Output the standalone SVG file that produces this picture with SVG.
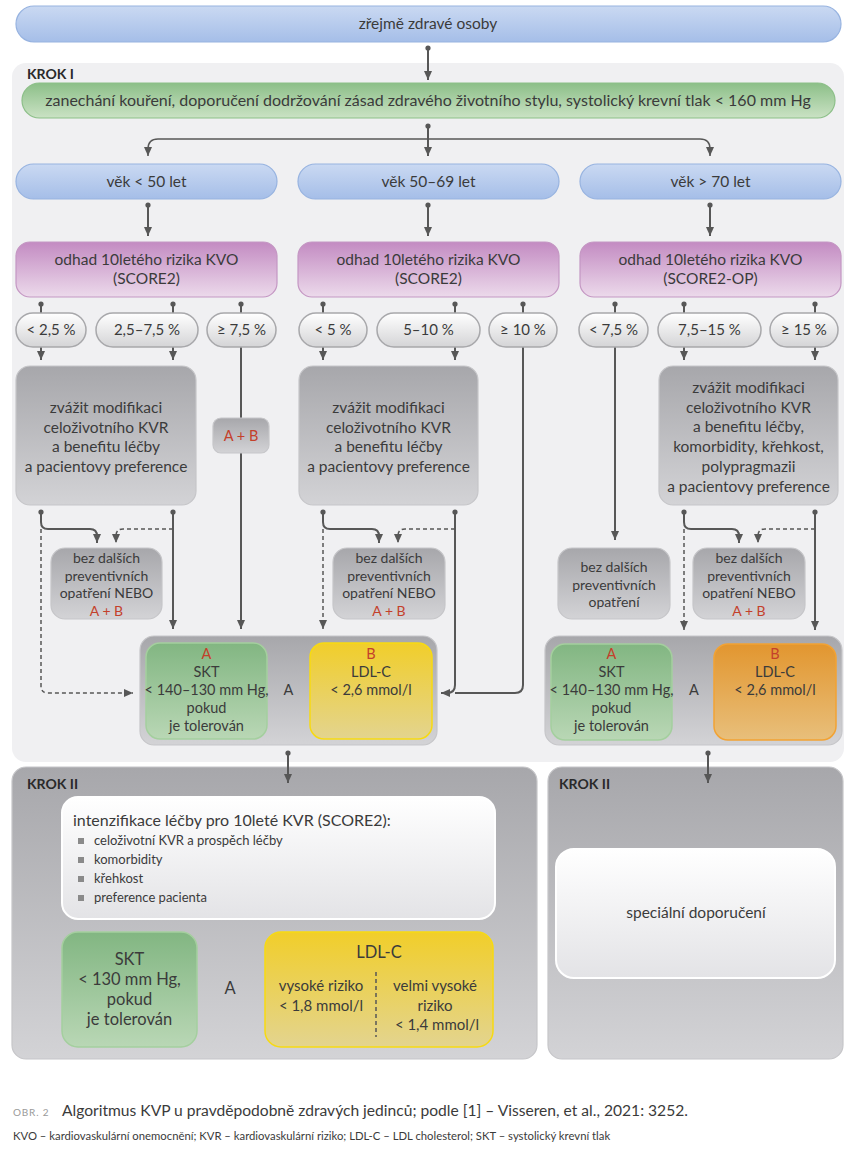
<svg xmlns="http://www.w3.org/2000/svg" width="857" height="1163" viewBox="0 0 857 1163">
<defs>
<linearGradient id="gBlue" x1="0" y1="0" x2="0" y2="1"><stop offset="0" stop-color="#cad9f2"/><stop offset="1" stop-color="#a5bee8"/></linearGradient>
<linearGradient id="gGreenPill" x1="0" y1="0" x2="0" y2="1"><stop offset="0" stop-color="#8cbf88"/><stop offset="1" stop-color="#cae2c4"/></linearGradient>
<linearGradient id="gPurple" x1="0" y1="0" x2="0" y2="1"><stop offset="0" stop-color="#c38bc2"/><stop offset="1" stop-color="#ecdaeb"/></linearGradient>
<linearGradient id="gPct" x1="0" y1="0" x2="0" y2="1"><stop offset="0" stop-color="#ffffff"/><stop offset="1" stop-color="#d4d4d6"/></linearGradient>
<linearGradient id="gGray" x1="0" y1="0" x2="0" y2="1"><stop offset="0" stop-color="#a7a7ab"/><stop offset="1" stop-color="#d3d3d6"/></linearGradient>
<linearGradient id="gGreen" x1="0" y1="0" x2="0" y2="1"><stop offset="0" stop-color="#82b682"/><stop offset="1" stop-color="#b9d7b5"/></linearGradient>
<linearGradient id="gYellow" x1="0" y1="0" x2="0" y2="1"><stop offset="0" stop-color="#f1ce2a"/><stop offset="1" stop-color="#e3d48f"/></linearGradient>
<linearGradient id="gOrange" x1="0" y1="0" x2="0" y2="1"><stop offset="0" stop-color="#e2962f"/><stop offset="1" stop-color="#e8bf7b"/></linearGradient>
<linearGradient id="gWhite" x1="0" y1="0" x2="0" y2="1"><stop offset="0" stop-color="#ffffff"/><stop offset="1" stop-color="#e3e3e6"/></linearGradient>
<marker id="arr" viewBox="0 0 9 8" refX="9" refY="4" markerWidth="9" markerHeight="8" markerUnits="userSpaceOnUse" orient="auto"><path d="M0,0 L9,4 L0,8 z" fill="#575757"/></marker>
<marker id="dot" viewBox="0 0 6 6" refX="3" refY="3" markerWidth="6" markerHeight="6" markerUnits="userSpaceOnUse"><circle cx="3" cy="3" r="2.6" fill="#575757"/></marker>
<style>
text{font-family:Lato,"Noto Sans","DejaVu Sans",sans-serif;fill:#3b3b3b;text-anchor:middle;font-size:15.5px}
.s15{font-size:15px}
.s14{font-size:14.5px}
.s13{font-size:14px}
.s12{font-size:13px}
.s16{font-size:16.5px}
.red{fill:#c4402b}
.lbl{font-weight:bold;font-size:14px;text-anchor:start;fill:#2a2a2a}
.blue{fill:url(#gBlue);stroke:#97b3e0;stroke-width:1.2}
.gpill{fill:url(#gGreenPill);stroke:#8cbf88;stroke-width:1.2}
.purple{fill:url(#gPurple);stroke:#c497c3;stroke-width:1.2}
.pct{fill:url(#gPct);stroke:#a8a8ab;stroke-width:1.5}
.gray{fill:url(#gGray);stroke:#c6c6c9;stroke-width:1.2}
.green{fill:url(#gGreen);stroke:#a4cf9e;stroke-width:1.5}
.yellow{fill:url(#gYellow);stroke:#f7da12;stroke-width:1.5}
.orange{fill:url(#gOrange);stroke:#f2a233;stroke-width:1.5}
.white{fill:url(#gWhite);stroke:#ffffff;stroke-width:2}
.c{fill:none;stroke:#575757;stroke-width:2}
.thin{stroke-width:1.5}
.d{fill:none;stroke:#575757;stroke-width:1.5;stroke-dasharray:4 3}
.a{marker-end:url(#arr)}
.o{marker-start:url(#dot)}
.bul{fill:#8a8a8a}
</style>
</defs>
<rect width="857" height="1163" fill="#ffffff"/>

<g id="krok1-panel">
<rect x="12" y="63" width="832" height="699" rx="14" fill="#f0f0f2"/>
<text class="lbl" x="27" y="79">KROK I</text>
</g>
<g id="krok2-left-panel">
<rect x="12" y="767" width="525" height="292" rx="14" class="gray"/>
<text class="lbl" x="27" y="789">KROK II</text>
</g>
<g id="krok2-right-panel">
<rect x="548" y="767" width="295" height="292" rx="14" class="gray"/>
<text class="lbl" x="559" y="789">KROK II</text>
</g>

<g id="connectors">
<path class="c o a" d="M428,48 V80"/>
<path class="c o a" d="M428,126 V156"/>
<path class="c thin a" d="M428,139 H158 Q148,139 148,149 V156"/>
<path class="c thin a" d="M428,139 H700 Q710,139 710,149 V156"/>
<path class="c o a" d="M148,205 V236"/>
<path class="c o a" d="M428,205 V236"/>
<path class="c o a" d="M710,205 V236"/>
<path class="c o" d="M41,304 V313"/>
<path class="c o" d="M173,304 V313"/>
<path class="c o" d="M241,304 V313"/>
<path class="c o" d="M323,304 V313"/>
<path class="c o" d="M455,304 V313"/>
<path class="c o" d="M523,304 V313"/>
<path class="c o" d="M615,304 V313"/>
<path class="c o" d="M684,304 V313"/>
<path class="c o" d="M815,304 V313"/>
<path class="c a" d="M41,347 V360"/>
<path class="c a" d="M173,347 V360"/>
<path class="c a" d="M323,347 V360"/>
<path class="c a" d="M455,347 V360"/>
<path class="c a" d="M684,347 V360"/>
<path class="c a" d="M815,347 V360"/>
<path class="c a" d="M241,347 V629"/>
<path class="c a" d="M615,347 V540"/>
<path class="c" d="M523,347 V685 Q523,693 515,693 H455"/>
<path class="c o a" d="M455,512 V685 Q455,693 447,693 H441"/>
<path class="c o a" d="M41,512 V522 Q41,529 48,529 H90 Q97,529 97,536 V543"/>
<path class="d a" d="M41,529 V686 Q41,693 48,693 H133"/>
<path class="c o a" d="M173,512 V629" stroke-width="2.5"/>
<path class="d a" d="M173,529 H123 Q116,529 116,536 V543"/>
<path class="c o a" d="M323,512 V522 Q323,529 330,529 H372 Q379,529 379,536 V543"/>
<path class="d a" d="M323,529 V629"/>
<path class="d a" d="M455,529 H405 Q398,529 398,536 V543"/>
<path class="c o a" d="M684,512 V522 Q684,529 691,529 H732 Q739,529 739,536 V543"/>
<path class="d a" d="M684,529 V630"/>
<path class="d a" d="M815,529 H765 Q758,529 758,536 V543"/>
<path class="c o a" d="M815,512 V630" stroke-width="2.5"/>
<path class="c o a" d="M288,753 V783"/>
<path class="c o a" d="M708,753 V783"/>
</g>

<g id="start">
<rect x="16" y="6" width="825" height="36" rx="18" class="blue"/>
<text x="428" y="29">zřejmě zdravé osoby</text>
</g>
<g id="lifestyle">
<rect x="22" y="83" width="813" height="35" rx="17.5" class="gpill"/>
<text x="428" y="106" style="font-size:16px">zanechání kouření, doporučení dodržování zásad zdravého životního stylu, systolický krevní tlak &lt; 160 mm Hg</text>
</g>

<g id="age-lt50">
<rect x="16" y="164" width="261" height="35" rx="17.5" class="blue"/>
<text x="146.5" y="187">věk &lt; 50 let</text>
</g>
<g id="age-50-69">
<rect x="298" y="164" width="261" height="35" rx="17.5" class="blue"/>
<text x="428.5" y="187">věk 50–69 let</text>
</g>
<g id="age-gt70">
<rect x="580" y="164" width="261" height="35" rx="17.5" class="blue"/>
<text x="710.5" y="187">věk &gt; 70 let</text>
</g>

<g id="risk-left">
<rect x="16" y="242" width="261" height="55" rx="14" class="purple"/>
<text x="146.5" y="265">odhad 10letého rizika KVO</text>
<text x="146.5" y="284">(SCORE2)</text>
</g>
<g id="risk-mid">
<rect x="298" y="242" width="261" height="55" rx="14" class="purple"/>
<text x="428.5" y="265">odhad 10letého rizika KVO</text>
<text x="428.5" y="284">(SCORE2)</text>
</g>
<g id="risk-right">
<rect x="580" y="242" width="261" height="55" rx="14" class="purple"/>
<text x="710.5" y="265">odhad 10letého rizika KVO</text>
<text x="710.5" y="284">(SCORE2-OP)</text>
</g>

<g id="pct-l1"><rect x="16" y="313" width="70" height="34" rx="17" class="pct"/><text class="s15" x="51" y="335">&lt; 2,5 %</text></g>
<g id="pct-l2"><rect x="96" y="313" width="102" height="34" rx="17" class="pct"/><text class="s15" x="147" y="335">2,5–7,5 %</text></g>
<g id="pct-l3"><rect x="207" y="313" width="69" height="34" rx="17" class="pct"/><text class="s15" x="241.5" y="335">≥ 7,5 %</text></g>
<g id="pct-m1"><rect x="299" y="313" width="68" height="34" rx="17" class="pct"/><text class="s15" x="333" y="335">&lt; 5 %</text></g>
<g id="pct-m2"><rect x="377" y="313" width="103" height="34" rx="17" class="pct"/><text class="s15" x="428.5" y="335">5–10 %</text></g>
<g id="pct-m3"><rect x="489" y="313" width="68" height="34" rx="17" class="pct"/><text class="s15" x="523" y="335">≥ 10 %</text></g>
<g id="pct-r1"><rect x="579" y="313" width="69" height="34" rx="17" class="pct"/><text class="s15" x="613.5" y="335">&lt; 7,5 %</text></g>
<g id="pct-r2"><rect x="658" y="313" width="103" height="34" rx="17" class="pct"/><text class="s15" x="709.5" y="335">7,5–15 %</text></g>
<g id="pct-r3"><rect x="770" y="313" width="68" height="34" rx="17" class="pct"/><text class="s15" x="804" y="335">≥ 15 %</text></g>

<g id="consider-left">
<rect x="16" y="366" width="180" height="139" rx="14" class="gray"/>
<text x="106" y="413">zvážit modifikaci</text>
<text x="106" y="432.5">celoživotního KVR</text>
<text x="106" y="452">a benefitu léčby</text>
<text x="106" y="471.5">a pacientovy preference</text>
</g>
<g id="ab-left">
<rect x="213" y="418" width="56" height="35" rx="8" class="gray"/>
<text class="s14 red" x="241" y="441">A + B</text>
</g>
<g id="consider-mid">
<rect x="299" y="366" width="179" height="139" rx="14" class="gray"/>
<text x="388.5" y="413">zvážit modifikaci</text>
<text x="388.5" y="432.5">celoživotního KVR</text>
<text x="388.5" y="452">a benefitu léčby</text>
<text x="388.5" y="471.5">a pacientovy preference</text>
</g>
<g id="consider-right">
<rect x="659" y="366" width="179" height="139" rx="14" class="gray"/>
<text x="748.5" y="393">zvážit modifikaci</text>
<text x="748.5" y="412.7">celoživotního KVR</text>
<text x="748.5" y="432.4">a benefitu léčby,</text>
<text x="748.5" y="452.1">komorbidity, křehkost,</text>
<text x="748.5" y="471.8">polypragmazii</text>
<text x="748.5" y="491.5">a pacientovy preference</text>
</g>

<g id="nomore-left">
<rect x="51" y="548" width="111" height="71" rx="14" class="gray"/>
<text class="s13" x="106.5" y="563">bez dalších</text>
<text class="s13" x="106.5" y="580.5">preventivních</text>
<text class="s13" x="106.5" y="598">opatření NEBO</text>
<text class="s13 red" x="106.5" y="615.5">A + B</text>
</g>
<g id="nomore-mid">
<rect x="333" y="548" width="112" height="71" rx="14" class="gray"/>
<text class="s13" x="389" y="563">bez dalších</text>
<text class="s13" x="389" y="580.5">preventivních</text>
<text class="s13" x="389" y="598">opatření NEBO</text>
<text class="s13 red" x="389" y="615.5">A + B</text>
</g>
<g id="nomore-right-plain">
<rect x="558" y="548" width="112" height="71" rx="14" class="gray"/>
<text class="s13" x="614" y="572">bez dalších</text>
<text class="s13" x="614" y="589.5">preventivních</text>
<text class="s13" x="614" y="607">opatření</text>
</g>
<g id="nomore-right">
<rect x="693" y="548" width="112" height="71" rx="14" class="gray"/>
<text class="s13" x="749" y="563">bez dalších</text>
<text class="s13" x="749" y="580.5">preventivních</text>
<text class="s13" x="749" y="598">opatření NEBO</text>
<text class="s13 red" x="749" y="615.5">A + B</text>
</g>

<g id="targets-left">
<rect x="140" y="636" width="297" height="109" rx="14" class="gray"/>
<rect x="146" y="643" width="121" height="96" rx="14" class="green"/>
<text class="s14 red" x="206.5" y="659">A</text>
<text class="s14" x="206.5" y="677">SKT</text>
<text class="s14" x="206.5" y="695">&lt; 140–130 mm Hg,</text>
<text class="s14" x="206.5" y="713">pokud</text>
<text class="s14" x="206.5" y="731">je tolerován</text>
<text class="s14" x="288.5" y="695">A</text>
<rect x="310" y="643" width="122" height="96" rx="14" class="yellow"/>
<text class="s14 red" x="371" y="659">B</text>
<text class="s14" x="371" y="677">LDL-C</text>
<text class="s14" x="371" y="695">&lt; 2,6 mmol/l</text>
</g>
<g id="targets-right">
<rect x="545" y="636" width="297" height="109" rx="14" class="gray"/>
<rect x="551" y="644" width="121" height="96" rx="14" class="green"/>
<text class="s14 red" x="611.5" y="659">A</text>
<text class="s14" x="611.5" y="677">SKT</text>
<text class="s14" x="611.5" y="695">&lt; 140–130 mm Hg,</text>
<text class="s14" x="611.5" y="713">pokud</text>
<text class="s14" x="611.5" y="731">je tolerován</text>
<text class="s14" x="694" y="695">A</text>
<rect x="714" y="644" width="122" height="96" rx="14" class="orange"/>
<text class="s14 red" x="775" y="659">B</text>
<text class="s14" x="775" y="677">LDL-C</text>
<text class="s14" x="775" y="695">&lt; 2,6 mmol/l</text>
</g>

<g id="intensify">
<rect x="62" y="797" width="433" height="122" rx="16" class="white"/>
<text x="73" y="826" style="text-anchor:start;font-size:16px">intenzifikace léčby pro 10leté KVR (SCORE2):</text>
<rect class="bul" x="78" y="838" width="6" height="6"/>
<rect class="bul" x="78" y="857" width="6" height="6"/>
<rect class="bul" x="78" y="876" width="6" height="6"/>
<rect class="bul" x="78" y="895" width="6" height="6"/>
<text class="s12" x="94" y="845" style="text-anchor:start">celoživotní KVR a prospěch léčby</text>
<text class="s12" x="94" y="864" style="text-anchor:start">komorbidity</text>
<text class="s12" x="94" y="883" style="text-anchor:start">křehkost</text>
<text class="s12" x="94" y="902" style="text-anchor:start">preference pacienta</text>
</g>
<g id="skt2">
<rect x="62" y="932" width="135" height="115" rx="16" class="green"/>
<text class="s16" x="129.5" y="965">SKT</text>
<text class="s16" x="129.5" y="985">&lt; 130 mm Hg,</text>
<text class="s16" x="129.5" y="1005">pokud</text>
<text class="s16" x="129.5" y="1025">je tolerován</text>
<text class="s16" x="230" y="994">A</text>
</g>
<g id="ldl2">
<rect x="265" y="932" width="228" height="115" rx="16" class="yellow"/>
<text class="s16" x="379" y="958">LDL-C</text>
<line x1="376" y1="972" x2="376" y2="1037" class="d"/>
<text class="s15" x="321" y="991">vysoké riziko</text>
<text class="s15" x="321" y="1011">&lt; 1,8 mmol/l</text>
<text class="s15" x="435" y="991">velmi vysoké</text>
<text class="s15" x="435" y="1011">riziko</text>
<text class="s15" x="437" y="1030">&lt; 1,4 mmol/l</text>
</g>
<g id="special">
<rect x="556" y="849" width="279" height="129" rx="18" class="white"/>
<text x="696" y="918">speciální doporučení</text>
</g>

<g id="caption">
<text x="13" y="1116" style="text-anchor:start;font-size:10px;fill:#9a9a9a;letter-spacing:0.8px">OBR. 2</text>
<text x="62" y="1116" style="text-anchor:start;font-size:15.6px">Algoritmus KVP u pravděpodobně zdravých jedinců; podle [1] – Visseren, et al., 2021: 3252.</text>
<text x="13" y="1140" style="text-anchor:start;font-size:11.3px">KVO – kardiovaskulární onemocnění; KVR – kardiovaskulární riziko; LDL-C – LDL cholesterol; SKT – systolický krevní tlak</text>
</g>
</svg>
